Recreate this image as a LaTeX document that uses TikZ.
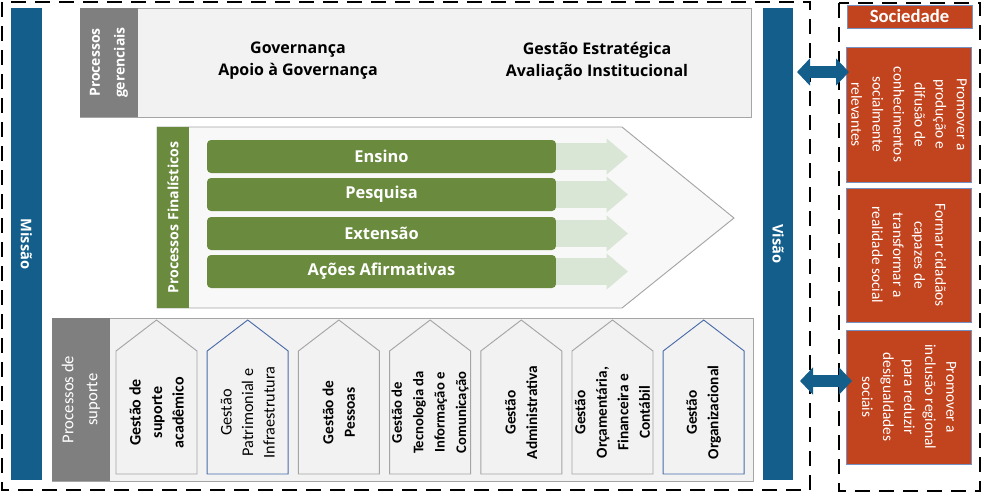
\documentclass[tikz,border=0pt]{standalone}
\usepackage{fontspec}
\setmainfont{Open Sans}
\newfontfamily\calib{Carlito}
\usetikzlibrary{arrows.meta}
\definecolor{bluebar}{HTML}{135E8B}
\definecolor{sidegray}{HTML}{7F7F7F}
\definecolor{boxgray}{HTML}{F2F2F2}
\definecolor{edgegray}{HTML}{A5A5A5}
\definecolor{greenbar}{HTML}{6A8B3E}
\definecolor{greenlight}{HTML}{D9E6D5}
\definecolor{pentafill}{HTML}{F8F8F8}
\definecolor{redbox}{HTML}{C2441E}
\definecolor{rededge}{HTML}{7591C4}
\definecolor{cardblue}{HTML}{4A6CA8}
\begin{document}
\begin{tikzpicture}[x=0.75pt,y=-0.75pt,
  dashbox/.style={draw=black, line width=2.2pt, dash pattern=on 11pt off 7pt},
  lightbox/.style={draw=edgegray, fill=boxgray, line width=0.6pt},
  bluestrip/.style={fill=bluebar, draw=none, text=white, inner sep=0pt,
     minimum height=23.25pt, minimum width=354pt, rotate=-90,
     font=\bfseries\fontsize{11}{12}\selectfont},
  sidelabel/.style={text=white, align=center, rotate=90, inner sep=0pt},
  headtext/.style={align=center, font=\bfseries\fontsize{12}{16.5}\selectfont},
  gbar/.style={fill=greenbar, draw=none, rounded corners=3pt, text=white,
     minimum width=261.75pt, minimum height=24.75pt, inner sep=0pt,
     font=\bfseries\fontsize{12.3}{14}\selectfont},
  lgarrow/.style={draw=greenlight, line width=20pt,
     -{Triangle[length=16pt,width=26pt]}},
  card/.style={draw=edgegray, fill=boxgray, line width=0.7pt},
  cardb/.style={draw=cardblue, fill=boxgray, line width=0.7pt},
  cardtext/.style={align=center, rotate=90, inner sep=0pt,
     font=\calib\bfseries\fontsize{11.5}{16.1}\selectfont},
  redrect/.style={fill=redbox, draw=rededge, line width=0.7pt, text=white,
     align=center, rotate=-90, inner sep=0pt, minimum height=93.75pt,
     font=\calib\fontsize{11.5}{15.8}\selectfont},
  fatarrow/.style={draw=bluebar, line width=9pt,
     {Triangle[length=9.75pt,width=20pt]}-{Triangle[length=9.75pt,width=20pt]}}
]
\useasboundingbox (0,0) rectangle (983,494);

% outer dashed frames
\draw[dashbox] (2,2) rectangle (810,490);
\draw[dashbox] (839,3) rectangle (980,491);

% Missao / Visao strips
\node[bluestrip] (missao) at (26.5,244) {Missão};
\node[bluestrip, minimum height=22.5pt] (visao) at (778,244) {Visão};

% Processos gerenciais
\draw[lightbox] (80,8) rectangle (751,117);
\fill[sidegray] (80,8) rectangle (138,117);
\node[sidelabel, font=\bfseries\fontsize{10.5}{18.5}\selectfont] (gerlab) at (109,62.5) {Processos\\gerenciais};
\node[headtext] (gov) at (298,61) {Governança\\Apoio à Governança};
\node[headtext] (gest) at (597,61) {Gestão Estratégica\\Avaliação Institucional};

% Processos finalisticos
\draw[draw=edgegray, fill=pentafill, line width=0.7pt]
  (157,127) -- (622,127) -- (734,218) -- (622,308) -- (157,308) -- cycle;
\fill[greenbar] (157,127) rectangle (189,308);
\node[sidelabel, font=\bfseries\fontsize{10.6}{12}\selectfont] (finlab) at (173,217.5) {Processos Finalísticos};

\node[gbar] (ensino) at (381.5,156.5) {Ensino};
\node[gbar] (pesquisa) at (381.5,194.5) {Pesquisa};
\node[gbar] (extensao) at (381.5,233.5) {Extensão};
\node[gbar] (acoes) at (381.5,271.5) {Ações Afirmativas};

\coordinate (t1) at (628,156.5);
\coordinate (t2) at (628,194.5);
\coordinate (t3) at (628,233.5);
\coordinate (t4) at (628,271.5);
\draw[lgarrow] (ensino.east) -- (t1);
\draw[lgarrow] (pesquisa.east) -- (t2);
\draw[lgarrow] (extensao.east) -- (t3);
\draw[lgarrow] (acoes.east) -- (t4);

% Processos de suporte
\draw[lightbox] (52,318) rectangle (753,481);
\fill[sidegray] (52,318) rectangle (110,481);
\node[sidelabel, font=\calib\fontsize{12.5}{18}\selectfont] (suplab) at (81,399.5) {Processos de\\suporte};

% cards
\draw[card]  (116,351) -- (156.5,320) -- (197,351) -- (197,474) -- (116,474) -- cycle;
\node[cardtext, font=\calib\bfseries\fontsize{12}{16.1}\selectfont] (c1) at (156.5,412.5) {Gestão de\\suporte\\acadêmico};
\draw[cardb] (207.2,351) -- (247.7,320) -- (288.2,351) -- (288.2,474) -- (207.2,474) -- cycle;
\node[cardtext, font=\calib\fontsize{12.2}{16.1}\selectfont] (c2) at (247.7,412.5) {Gestão\\Patrimonial e\\Infraestrutura};
\draw[card]  (298.4,351) -- (338.9,320) -- (379.4,351) -- (379.4,474) -- (298.4,474) -- cycle;
\node[cardtext] (c3) at (338.9,412.5) {Gestão de\\Pessoas};
\draw[card]  (389.6,351) -- (430.1,320) -- (470.6,351) -- (470.6,474) -- (389.6,474) -- cycle;
\node[cardtext, font=\calib\bfseries\fontsize{11}{16.1}\selectfont] (c4) at (430.1,412.5) {Gestão de\\Tecnologia da\\Informação e\\Comunicação};
\draw[card]  (480.8,351) -- (521.3,320) -- (561.8,351) -- (561.8,474) -- (480.8,474) -- cycle;
\node[cardtext] (c5) at (521.3,412.5) {Gestão\\Administrativa};
\draw[card]  (572,351) -- (612.5,320) -- (653,351) -- (653,474) -- (572,474) -- cycle;
\node[cardtext] (c6) at (612.5,412.5) {Gestão\\Orçamentária,\\Financeira e\\Contábil};
\draw[cardb] (663.2,351) -- (703.7,320) -- (744.2,351) -- (744.2,474) -- (663.2,474) -- cycle;
\node[cardtext] (c7) at (703.7,412.5) {Gestão\\Organizacional};

% Sociedade column
\node[fill=redbox, draw=rededge, line width=0.7pt, text=white, inner sep=0pt,
  minimum width=93.75pt, minimum height=17.25pt,
  font=\calib\bfseries\fontsize{14}{15}\selectfont] (soc) at (909.5,16.5) {Sociedade};
\node[redrect, minimum width=101.25pt] (r1) at (909,114.5)
  {Promover a\\produção e\\difusão de\\conhecimentos\\socialmente\\relevantes};
\node[redrect, minimum width=100.5pt] (r2) at (909,255)
  {Formar cidadãos\\capazes de\\transformar a\\realidade social};
\node[redrect, minimum width=100.5pt] (r3) at (909,397)
  {Promover a\\inclusão regional\\para reduzir\\desigualdades\\sociais};

% double arrows
\coordinate (a1s) at (797,72);
\coordinate (a1e) at (849,72);
\coordinate (a2s) at (800,381);
\coordinate (a2e) at (852,381);
\draw[fatarrow] (a1s) -- (a1e);
\draw[fatarrow] (a2s) -- (a2e);
\end{tikzpicture}
\end{document}
